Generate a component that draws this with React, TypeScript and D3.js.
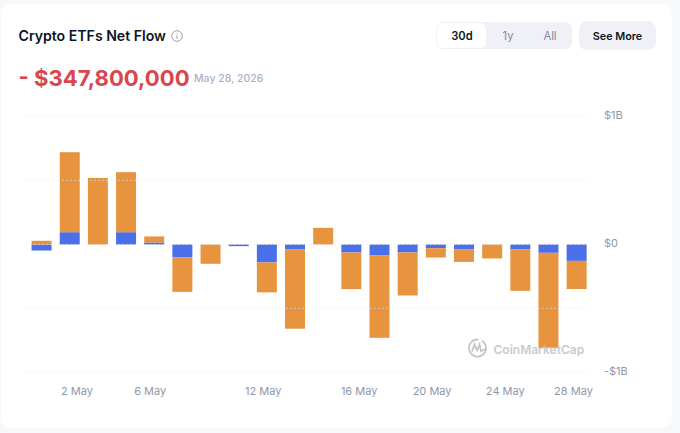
import React, { useRef, useEffect } from "react";
import * as d3 from "d3";

const barDays = d3.range(1, 21);
// billions of USD, one value per bar
const blueFlow = [-0.047, 0.096, 0, 0.096, 0.016, -0.099, 0, -0.013, -0.14, -0.036, 0, -0.0625, -0.083, -0.0625, -0.029, -0.036, 0, -0.039, -0.065, -0.128];
const orangeFlow = [0.029, 0.625, 0.52, 0.469, 0.047, -0.271, -0.151, 0, -0.234, -0.622, 0.13, -0.286, -0.646, -0.336, -0.073, -0.1, -0.109, -0.323, -0.742, -0.22];
const xTickLabels = ["2 May", "6 May", "12 May", "16 May", "20 May", "24 May", "28 May"];
// tick labels do not sit on bar centres in the source, so they are given in bar units
const xTickSlots = [1.24, 3.84, 7.85, 11.26, 13.85, 16.45, 18.87];
const yTicks = [1, 0.5, 0, -0.5, -1];
const yTickLabels = new Map<number, string>([[1, "$1B"], [0, "$0"], [-1, "-$1B"]]);
const ranges = ["30d", "1y", "All"];

const FONT = "Inter, sans-serif";
const BLUE = "#4b6fe8";
const ORANGE = "#e8943f";

const App: React.FC = () => {
  const svgRef = useRef<SVGSVGElement>(null);

  useEffect(() => {
    const svg = d3.select(svgRef.current);
    svg.selectAll("*").remove();
    const width = 680;
    const height = 433;

    const x = d3.scaleBand<number>().domain(barDays).range([27.5, 590.7]).paddingInner(0.29).paddingOuter(0.145);
    const y = d3.scaleLinear().domain([-1, 1]).range([372.5, 116.5]);
    const slot = d3.scaleLinear().domain([0, 19]).range([x(1)! + x.bandwidth() / 2, x(20)! + x.bandwidth() / 2]);

    svg.append("rect").attr("width", width).attr("height", height).attr("fill", "#f7f8fa");
    svg.append("rect").attr("x", 1).attr("y", 4).attr("width", 671).attr("height", 424).attr("rx", 10).attr("fill", "#ffffff");

    // header
    svg.append("text").attr("x", 18.5).attr("y", 41).attr("font-family", FONT).attr("font-size", 14.1).attr("font-weight", 600).attr("fill", "#0d1421").text("Crypto ETFs Net Flow");
    const info = svg.append("g").attr("transform", "translate(177,36)").attr("fill", "none").attr("stroke", "#98a1b2").attr("stroke-width", 1);
    info.append("circle").attr("r", 5.3);
    info.append("line").attr("y1", -0.8).attr("y2", 2.8);
    info.append("line").attr("y1", -2.9).attr("y2", -2);
    svg.append("text").attr("x", 18.5).attr("y", 86).attr("font-family", FONT).attr("font-size", 22.1).attr("font-weight", 700).attr("fill", "#d8464e").text("- $347,800,000");
    svg.append("text").attr("x", 194).attr("y", 82).attr("font-family", FONT).attr("font-size", 10.5).attr("font-weight", 500).attr("fill", "#a9b2c4").text("May 28, 2026");

    // range switch
    svg.append("rect").attr("x", 436).attr("y", 22).attr("width", 136).attr("height", 27).attr("rx", 7).attr("fill", "#eff1f6");
    svg.append("rect").attr("x", 437).attr("y", 23).attr("width", 49).attr("height", 25).attr("rx", 6).attr("fill", "#ffffff");
    const rangeX = d3.scaleOrdinal<string, number>().domain(ranges).range([462, 508, 550]);
    svg.selectAll(".range").data(ranges).enter().append("text")
      .attr("class", "range")
      .attr("x", (d) => rangeX(d))
      .attr("y", 39.5)
      .attr("text-anchor", "middle")
      .attr("font-family", FONT)
      .attr("font-size", 11.2)
      .attr("font-weight", (d, i) => (i === 0 ? 600 : 400))
      .attr("fill", (d, i) => (i === 0 ? "#0d1421" : "#7f8899"))
      .text((d) => d);
    svg.append("rect").attr("x", 579).attr("y", 21).attr("width", 77).attr("height", 29).attr("rx", 8).attr("fill", "#eff1f6");
    svg.append("text").attr("x", 617.5).attr("y", 39.5).attr("text-anchor", "middle").attr("font-family", FONT).attr("font-size", 10.8).attr("font-weight", 600).attr("fill", "#0d1421").text("See More");

    // stacked bars: blue sits on the axis, orange continues past it
    const rows = barDays.map((d, i) => ({ day: d, blue: blueFlow[i], orange: orangeFlow[i] }));
    const plot = svg.append("g");
    plot.selectAll(".blue").data(rows).enter().append("rect")
      .attr("class", "blue")
      .attr("x", (d) => x(d.day)!)
      .attr("width", x.bandwidth())
      .attr("y", (d) => Math.min(y(0), y(d.blue)))
      .attr("height", (d) => Math.abs(y(d.blue) - y(0)))
      .attr("fill", BLUE);
    plot.selectAll(".orange").data(rows).enter().append("rect")
      .attr("class", "orange")
      .attr("x", (d) => x(d.day)!)
      .attr("width", x.bandwidth())
      .attr("y", (d) => {
        const base = d.blue * d.orange > 0 ? d.blue : 0;
        return Math.min(y(base), y(base + d.orange));
      })
      .attr("height", (d) => Math.abs(y(d.orange) - y(0)))
      .attr("fill", ORANGE);

    // grid goes over the bars, it shows through them as pale dots
    svg.selectAll(".grid").data(yTicks).enter().append("line")
      .attr("class", "grid")
      .attr("x1", 26)
      .attr("x2", 588)
      .attr("y1", (d) => y(d))
      .attr("y2", (d) => y(d))
      .attr("stroke", "#e4e7ed")
      .attr("stroke-opacity", 0.7)
      .attr("stroke-dasharray", "1.5 2.5");

    // axes
    const yAxis = d3.axisRight(y).tickValues(yTicks).tickSize(0).tickFormat((d) => yTickLabels.get(d as number) ?? "");
    const yG = svg.append("g").attr("transform", "translate(604,0)").call(yAxis);
    yG.select(".domain").remove();
    yG.selectAll("text").attr("x", 0).attr("dy", "0").attr("y", 2).attr("font-family", FONT).attr("font-size", 11).attr("fill", "#8f98a8");

    const xAxis = d3.axisBottom(slot).tickValues(xTickSlots).tickSize(0).tickFormat((d, i) => xTickLabels[i]);
    const xG = svg.append("g").attr("transform", "translate(0,387)").call(xAxis);
    xG.select(".domain").remove();
    xG.selectAll("text").attr("y", 0).attr("dy", "0.71em").attr("font-family", FONT).attr("font-size", 11).attr("fill", "#8f98a8");

    // watermark
    const mark = svg.append("g").attr("opacity", 0.85);
    const logo = mark.append("g").attr("transform", "translate(477.5,348)").attr("fill", "none").attr("stroke", "#b9bcc2").attr("stroke-width", 1.8);
    logo.append("path").attr("d", d3.arc()({ innerRadius: 8.5, outerRadius: 8.5, startAngle: 0.55, endAngle: Math.PI * 2 + 0.1 }) ?? "");
    logo.append("path").attr("d", d3.line()([[-5.5, 3.5], [-3, -3.5], [-0.5, 2.5], [2, -3.5], [3.5, 3], [8, 1]]) ?? "");
    mark.append("text").attr("x", 493.5).attr("y", 353.5).attr("font-family", FONT).attr("font-size", 12).attr("font-weight", 600).attr("fill", "#bfc2c8").text("CoinMarketCap");
  }, []);

  return <svg ref={svgRef} width={680} height={433} style={{ position: "absolute", left: 0, top: 0, display: "block" }}></svg>;
};

export default App;
